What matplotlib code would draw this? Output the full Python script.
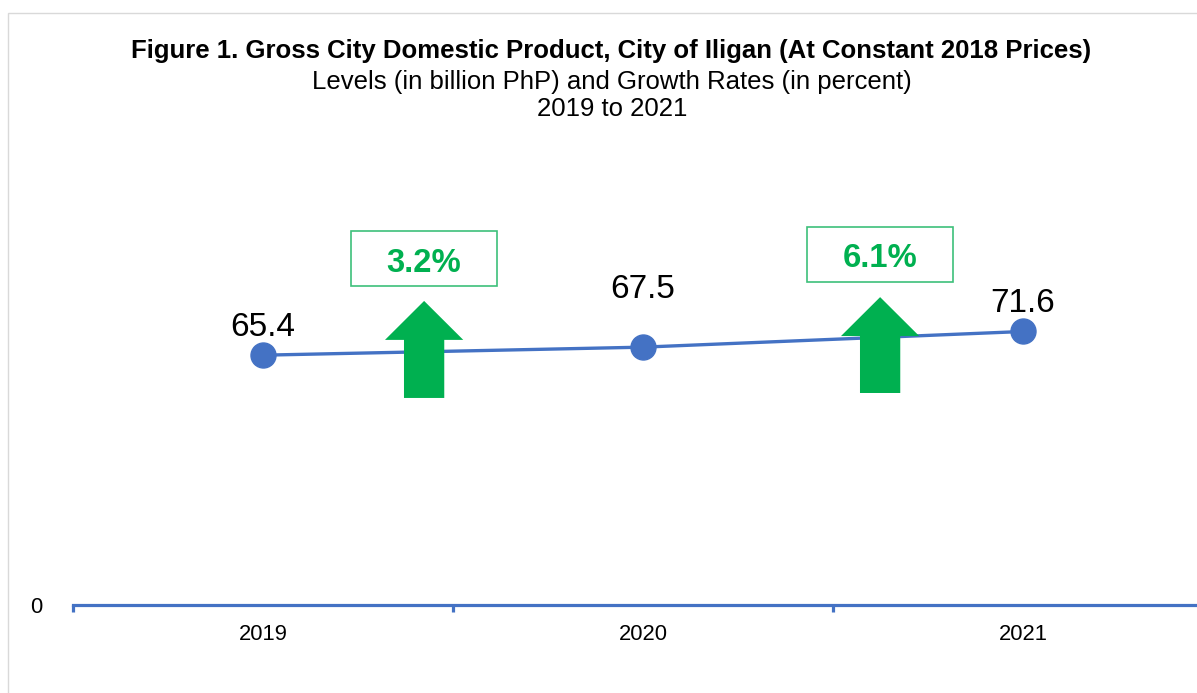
import matplotlib
matplotlib.use("Agg")
import matplotlib.pyplot as plt
from matplotlib.patches import Polygon, Rectangle

plt.rcParams['font.family'] = ['Liberation Sans', 'DejaVu Sans']

years = ["2019", "2020", "2021"]
gdp = [65.4, 67.5, 71.6]
growth_labels = ["3.2%", "6.1%"]

BLUE = "#4472C4"
GREEN = "#00B050"

W, H = 1197, 693
fig = plt.figure(figsize=(W / 100, H / 100), dpi=100)

# outer border
fig.patches.append(Rectangle((8 / W, -0.1), 1.2, 1 - 13 / H + 0.1, transform=fig.transFigure,
                             fill=False, edgecolor="#D9D9D9", linewidth=1.0))

# axes: x from 73px to 1213px, y bottom at 605px, 3.82 px per unit
ax_left = 73 / W
ax_width = 1140 / W
ax_bottom = (H - 605) / H
ymax = 105
ax_height = ymax * 3.82 / H
ax = fig.add_axes([ax_left, ax_bottom, ax_width, ax_height])
ax.set_xlim(-0.5, 2.5)
ax.set_ylim(0, ymax)
ax.patch.set_alpha(0)

x = list(range(len(years)))
ax.plot(x, gdp, color=BLUE, linewidth=2.4, marker="o", markersize=18,
        markerfacecolor=BLUE, markeredgecolor=BLUE, zorder=3, clip_on=False)

offsets = [13.8, 35.3, 14.3]
for xi, v, off in zip(x, gdp, offsets):
    ax.annotate(f"{v:.1f}", (xi, v), xytext=(0, off), textcoords="offset points",
                ha="center", va="baseline", fontsize=24, color="black")

for s in ["top", "right", "left"]:
    ax.spines[s].set_visible(False)
ax.spines["bottom"].set_color(BLUE)
ax.spines["bottom"].set_linewidth(2.3)

ax.set_xticks(x)
ax.set_xticklabels(years)
ax.set_xticks([-0.5, 0.5, 1.5, 2.5], minor=True)
ax.tick_params(axis="x", which="major", length=0, pad=14, labelsize=15.8)
ax.tick_params(axis="x", which="minor", length=5, width=2.3, color=BLUE, direction="out")
ax.set_yticks([0])
ax.set_yticklabels(["0"])
ax.tick_params(axis="y", length=0, pad=22, labelsize=15.8)

# growth arrows and boxes (between categories)
arrow_x = [0.424, 1.624]
arrow_y = [(54.2, 69.4, 79.6), (55.5, 70.4, 80.6)]
box_y = [(83.5, 97.9), (84.6, 99.0)]
text_y = [87.2, 88.5]
for i, lab in enumerate(growth_labels):
    cx = arrow_x[i]
    yb, yh, yt = arrow_y[i]
    sw = 0.053
    hw = 0.103
    poly = Polygon([(cx - sw, yb), (cx + sw, yb), (cx + sw, yh), (cx + hw, yh),
                    (cx, yt), (cx - hw, yh), (cx - sw, yh)], closed=True,
                   facecolor=GREEN, edgecolor="none", zorder=4)
    ax.add_patch(poly)
    b0, b1 = box_y[i]
    bw = 0.193
    ax.add_patch(Rectangle((cx - bw, b0), 2 * bw, b1 - b0, fill=False,
                           edgecolor="#3DC07A", linewidth=1.2, zorder=4, clip_on=False))
    ax.text(cx, text_y[i], lab, ha="center", va="baseline", fontsize=23.6,
            fontweight="bold", color=GREEN, zorder=5)

fig.text(611 / W, 1 - 57.7 / H,
         "Figure 1. Gross City Domestic Product, City of Iligan (At Constant 2018 Prices)",
         ha="center", va="baseline", fontsize=18.5, fontweight="bold")
fig.text(612 / W, 1 - 89.3 / H, "Levels (in billion PhP) and Growth Rates (in percent)",
         ha="center", va="baseline", fontsize=18.5)
fig.text(612 / W, 1 - 115.7 / H, "2019 to 2021", ha="center", va="baseline", fontsize=18.5)

fig.savefig("out.png", dpi=100)
